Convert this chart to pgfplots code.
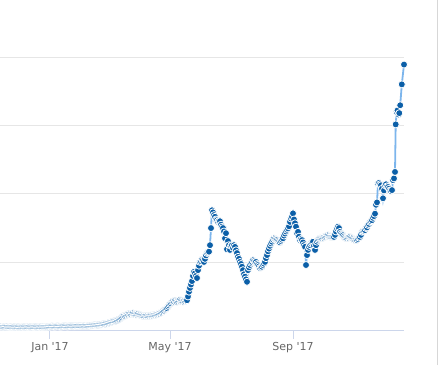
\documentclass[border=0pt]{standalone}
\usepackage{pgfplots}
\pgfplotsset{compat=1.18}
\usepackage{fontspec}
\setmainfont{DejaVu Sans}
\definecolor{mk}{HTML}{0B5FA8}
\definecolor{ln}{HTML}{7CB5EC}
\definecolor{gridc}{HTML}{E6E6E6}
\definecolor{axl}{HTML}{CCD6EB}
\definecolor{lab}{HTML}{666666}
\pgfplotstableread{
x y
0 12
1 12
2 11.5
3 11
4 11
5 11.5
6 12
7 12
8 11
9 11
10 10.5
11 10.5
12 11
13 11
14 10.5
15 10
16 10
17 10
18 10.5
19 10
20 9.5
21 9.5
22 10
23 10
24 10.5
25 10
26 10
27 10
28 10.5
29 11
30 10.5
31 10
32 10
33 10
34 10.5
35 10.5
36 10.5
37 10
38 10
39 10
40 10.5
41 10.5
42 10
43 10.5
44 11
45 11
46 11
47 11
48 11.5
49 11.5
50 12
51 12.5
52 13
53 12.5
54 12
55 12
56 12.5
57 13
58 13
59 12.5
60 12
61 12
62 12.5
63 13
64 13
65 13.5
66 13
67 12.5
68 12.5
69 13
70 13
71 13.5
72 13.5
73 13
74 13
75 13
76 13.5
77 14
78 14
79 13.5
80 13.5
81 13.5
82 14
83 14
84 14
85 14.5
86 14.5
87 14
88 14
89 14.5
90 15
91 15
92 15.5
93 15.5
94 16
95 16
96 16.5
97 17
98 17
99 17.5
100 18
101 18
102 18.5
103 19
104 19
105 20
106 21
107 21
108 22
109 23
110 24
111 25
112 26
113 27
114 28
115 28
116 29
117 30
118 32
119 33
120 35
121 37
122 39
123 42
124 44
125 43
126 45
127 47
128 48
129 50
130 49
131 48
132 50
133 51
134 49
135 48
136 47
137 48
138 49
139 47
140 46
141 45
142 44
143 43
144 42
145 43
146 44
147 43
148 42
149 43
150 44
151 45
152 44
153 45
154 46
155 46
156 47
157 48
158 49
159 50
160 52
161 53
162 55
163 57
164 59
165 62
166 64
167 66
168 70
169 74
170 78
171 80
172 84
173 86
174 85
175 88
176 86
177 84
178 86
179 88
180 90
181 88
182 86
183 85
184 87
185 86
186 88
187 89
188 100
189 114
190 125
191 135
192 145
193 160
194 172
195 168
196 160
197 154
198 177
199 190
200 201
201 203
202 208
203 206
204 201
205 210
206 220
207 227
208 229
209 231
210 250
211 300
212 352
213 346
214 338
215 333
216 325
217 323
218 318
219 321
220 320
221 310
222 304
223 300
224 290
225 270
226 285
227 238
228 262
229 250
230 236
231 248
232 250
233 242
234 250
235 245
236 235
237 227
238 216
239 210
240 201
241 195
242 187
243 177
244 165
245 158
246 150
247 143
248 177
249 185
250 192
251 198
252 201
253 206
254 203
255 200
256 201
257 195
258 192
259 188
260 183
261 185
262 187
263 192
264 196
265 201
266 212
267 221
268 232
269 240
270 248
271 255
272 260
273 266
274 270
275 268
276 266
277 265
278 262
279 260
280 258
281 262
282 266
283 270
284 278
285 284
286 290
287 295
288 299
289 305
290 318
291 328
292 333
293 343
294 325
295 314
296 304
297 285
298 289
299 275
300 265
301 268
302 265
303 258
304 250
305 245
306 192
307 221
308 236
309 245
310 250
311 255
312 258
313 260
314 248
315 236
316 250
317 260
318 265
319 268
320 270
321 270
322 270
323 272
324 274
325 274
326 276
327 278
328 279
329 277
330 275
331 274
332 274
333 274
334 274
335 280
336 290
337 299
338 304
339 300
340 289
341 284
342 281
343 279
344 275
345 272
346 270
347 270
348 272
349 274
350 274
351 272
352 270
353 268
354 266
355 265
356 266
357 265
358 268
359 272
360 274
361 280
362 289
363 291
364 292
365 294
366 300
367 302
368 309
369 312
370 318
371 320
372 323
373 330
374 335
375 342
376 368
377 375
378 430
379 432
380 428
381 425
382 415
383 387
384 410
385 425
386 428
387 422
388 420
389 415
390 410
391 408
392 411
393 440
394 445
395 464
395.7 603
396.7 640
397.5 644
398.5 632
399.3 636
400.2 659
401.8 720
404 778
}\datatab
\begin{document}
\begin{tikzpicture}
\path[use as bounding box] (0pt,0pt) rectangle (439pt,365pt);
\draw[color=gridc!85!gray, line width=1pt] (437.5pt,0pt) -- (437.5pt,365pt);
\begin{axis}[
  at={(0pt,34.3pt)}, anchor=south west,
  scale only axis, width=404pt, height=273.7pt,
  xmin=0, xmax=404, ymin=0, ymax=800,
  axis x line*=bottom, axis y line*=left,
  x axis line style={draw=axl, line width=1pt, -},
  y axis line style={draw=none},
  ytick={200,400,600,800}, yticklabels={},
  ymajorgrids, grid style={draw=gridc, line width=1pt},
  ytick style={draw=none},
  xtick={50,170,293},
  xticklabels={Jan \textquotesingle17, May \textquotesingle17, Sep \textquotesingle17},
  xtick style={draw=axl, line width=1pt},
  tick align=outside, major tick length=8pt,
  xticklabel style={font=\fontsize{11}{13}\selectfont, text=lab},
  clip=false,
]
\addplot[color=ln, line width=1.8pt, mark=*, mark size=3.5pt,
  mark options={fill=mk, draw=white, line width=0.75pt}] table[x=x,y=y] {\datatab};
\end{axis}
\end{tikzpicture}
\end{document}
